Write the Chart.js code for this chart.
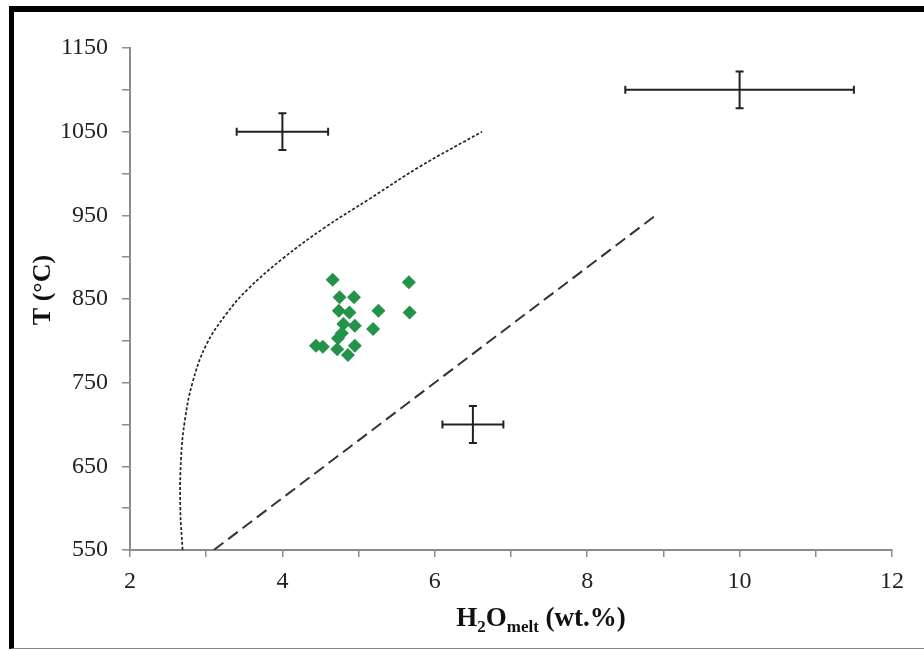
<!DOCTYPE html>
<html>
<head>
<meta charset="utf-8">
<script src="https://cdn.jsdelivr.net/npm/chart.js@4.4.0/dist/chart.umd.min.js"></script>
<style>
  html, body { margin: 0; padding: 0; background: #fff; }
  #wrap { position: relative; width: 924px; height: 650px; overflow: hidden; }
  #frame {
    position: absolute; left: 9px; top: 6px; width: 915px; height: 643px;
    box-sizing: border-box; border-left: 5px solid #000; border-top: 6px solid #000;
    border-bottom: 1px solid #888;
  }
  #c { position: absolute; left: 0; top: 0; }
</style>
</head>
<body>
<div id="wrap">
  <div id="frame"></div>
  <canvas id="c" width="924" height="650"></canvas>
</div>
<script>
// ── Data ─────────────────────────────────────────────────────────────────────
const meltH2O = [4.66, 5.66, 4.75, 4.94, 4.74, 4.88, 5.26, 5.67, 4.80, 4.95, 5.19, 4.78, 4.73, 4.44, 4.53, 4.72, 4.95, 4.86];
const meltT   = [873, 870, 852, 852, 836, 834, 836, 834, 820, 818, 814, 809, 803, 794, 793, 790, 794, 783];

// dotted curve (upper boundary)
const curveH2O = [2.69, 2.66, 2.67, 2.72, 2.82, 3.00, 3.27, 3.55, 4.00, 4.55, 5.15, 5.80, 6.62];
const curveT   = [550, 600, 660, 705, 750, 795, 833, 862, 898, 935, 970, 1008, 1050];

// dashed line (lower boundary)
const lineH2O = [3.1, 8.9];
const lineT   = [550, 950];

// representative error crosses
const errH2O  = [4.0, 10.0, 6.5];
const errT    = [1050, 1100, 700];
const errH2Oe = [0.6, 1.5, 0.4];
const errTe   = [22, 22, 22];

const xTicks = [2, 4, 6, 8, 10, 12];
const yTicks = [550, 650, 750, 850, 950, 1050, 1150];

const toPts = (xs, ys) => xs.map((v, i) => ({ x: v, y: ys[i] }));

// ── Plugins ──────────────────────────────────────────────────────────────────
const errorBars = {
  id: 'errorBars',
  afterDatasetsDraw(chart) {
    const { ctx, scales: { x, y } } = chart;
    ctx.save();
    ctx.strokeStyle = '#222';
    ctx.lineWidth = 2;
    const cap = 4;
    errH2O.forEach((cx, i) => {
      const px = x.getPixelForValue(cx), py = y.getPixelForValue(errT[i]);
      const x0 = x.getPixelForValue(cx - errH2Oe[i]), x1 = x.getPixelForValue(cx + errH2Oe[i]);
      const y0 = y.getPixelForValue(errT[i] - errTe[i]), y1 = y.getPixelForValue(errT[i] + errTe[i]);
      ctx.beginPath();
      ctx.moveTo(x0, py); ctx.lineTo(x1, py);
      ctx.moveTo(px, y0); ctx.lineTo(px, y1);
      ctx.moveTo(x0, py - cap); ctx.lineTo(x0, py + cap);
      ctx.moveTo(x1, py - cap); ctx.lineTo(x1, py + cap);
      ctx.moveTo(px - cap, y0); ctx.lineTo(px + cap, y0);
      ctx.moveTo(px - cap, y1); ctx.lineTo(px + cap, y1);
      ctx.stroke();
    });
    ctx.restore();
  }
};

const axisTitles = {
  id: 'axisTitles',
  afterDraw(chart) {
    const { ctx } = chart;
    ctx.save();
    ctx.fillStyle = '#111';
    ctx.textBaseline = 'alphabetic';

    // y title
    ctx.save();
    ctx.translate(50, 290);
    ctx.rotate(-Math.PI / 2);
    ctx.font = 'bold 26px "Liberation Serif"';
    ctx.textAlign = 'center';
    ctx.fillText('T (°C)', 0, 0);
    ctx.restore();

    // x title with subscripts
    const big = 'bold 27px "Liberation Serif"', sub = 'bold 17px "Liberation Serif"';
    const parts = [['H', big, 0], ['2', sub, 6], ['O', big, 0], ['melt', sub, 6], [' (wt.%)', big, 0]];
    let w = 0;
    parts.forEach(([s, f]) => { ctx.font = f; w += ctx.measureText(s).width; });
    let cx = 541 - w / 2;
    const base = 626;
    ctx.textAlign = 'left';
    parts.forEach(([s, f, dy]) => {
      ctx.font = f;
      ctx.fillText(s, cx, base + dy);
      cx += ctx.measureText(s).width;
    });
    ctx.restore();
  }
};

// ── Chart ────────────────────────────────────────────────────────────────────
const tickFont = { family: 'Liberation Serif', size: 24 };
const axisGrey = '#8c8c8c';

new Chart(document.getElementById('c'), {
  type: 'scatter',
  data: {
    datasets: [
      {
        label: 'melt inclusions', data: toPts(meltH2O, meltT),
        pointStyle: 'rectRot', pointRadius: 7, pointHoverRadius: 7,
        backgroundColor: '#23934a', borderColor: '#23934a', borderWidth: 0
      },
      {
        label: 'upper', data: toPts(curveH2O, curveT), showLine: true,
        borderColor: '#222', borderWidth: 1.7, borderDash: [3, 2], tension: 0.4,
        pointRadius: 0, fill: false
      },
      {
        label: 'lower', data: toPts(lineH2O, lineT), showLine: true,
        borderColor: '#333', borderWidth: 2, borderDash: [12, 6],
        pointRadius: 0, fill: false
      }
    ]
  },
  options: {
    responsive: false, animation: false, devicePixelRatio: 1,
    layout: { padding: { top: 48, right: 32, left: 0, bottom: 0 } },
    plugins: { legend: { display: false }, tooltip: { enabled: false } },
    scales: {
      x: {
        type: 'linear', min: 2, max: 12,
        afterFit: s => { s.height = 100; },
        grid: { drawOnChartArea: false, drawTicks: true, tickLength: 7, color: axisGrey, lineWidth: 1.5 },
        border: { display: true, color: axisGrey, width: 2 },
        ticks: {
          stepSize: 1, autoSkip: false, maxRotation: 0, padding: 10,
          color: '#222', font: tickFont,
          callback: v => xTicks.includes(v) ? v : ''
        }
      },
      y: {
        type: 'linear', min: 550, max: 1150,
        afterFit: s => { s.width = 130; },
        grid: { drawOnChartArea: false, drawTicks: true, tickLength: 8, color: axisGrey, lineWidth: 1.5 },
        border: { display: true, color: axisGrey, width: 2 },
        ticks: {
          stepSize: 50, autoSkip: false, padding: 14,
          color: '#222', font: tickFont,
          callback: v => yTicks.includes(v) ? v : ''
        }
      }
    }
  },
  plugins: [errorBars, axisTitles]
});
</script>
</body>
</html>
